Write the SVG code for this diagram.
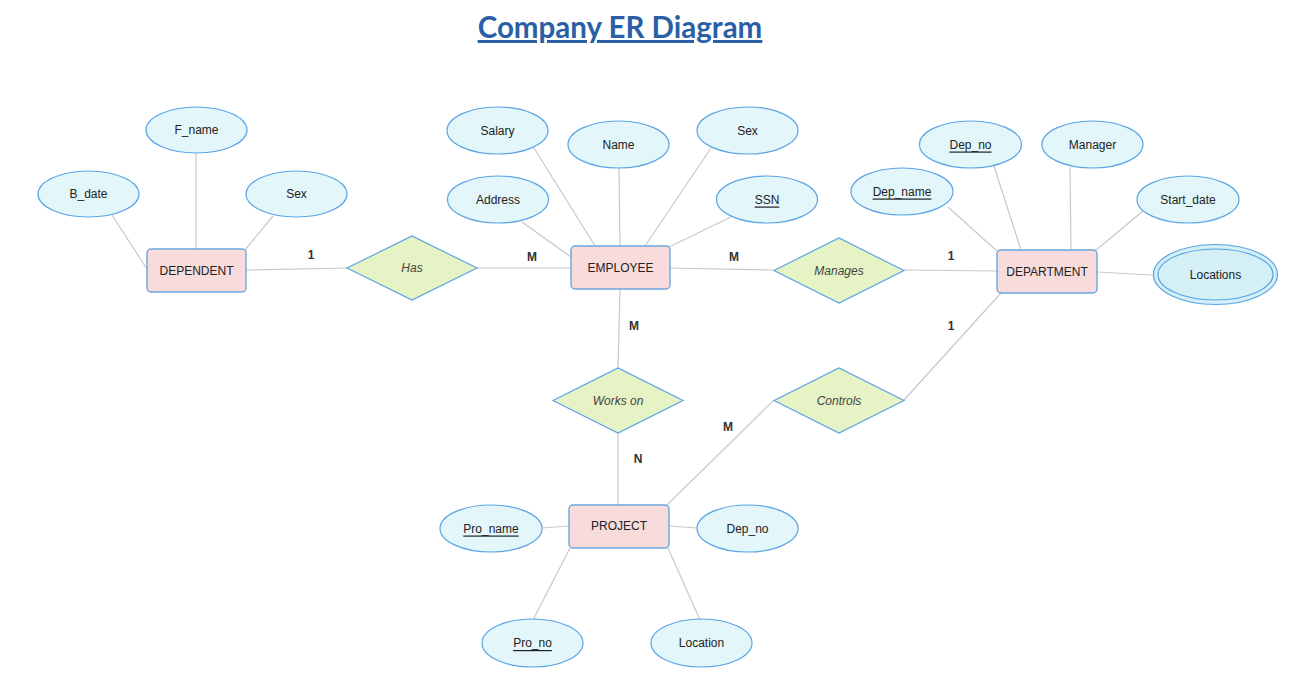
<svg xmlns="http://www.w3.org/2000/svg" width="1308" height="686" viewBox="0 0 1308 686">
<style>
.attr{fill:#e3f6fa;stroke:#5aa4e6;stroke-width:1.2}
.ent{fill:#f8dbdb;stroke:#6aa6e0;stroke-width:1.4}
.rel{fill:#e6f3c4;stroke:#5aa4e6;stroke-width:1.2}
.t{font-family:"Liberation Sans",Arial,sans-serif;font-size:12px;fill:#222;text-anchor:middle;dominant-baseline:central}
.it{font-style:italic;fill:#444}
.u{text-decoration:underline}
.card{font-family:"Liberation Sans",Arial,sans-serif;font-size:12px;font-weight:bold;fill:#333;text-anchor:middle;dominant-baseline:central}
#connectors line{stroke:#c8c8c8;stroke-width:1.2}
</style>
<rect width="1308" height="686" fill="#fff"/>
<text x="620" y="38" font-family="Lato,'Liberation Sans',sans-serif" font-size="29.5" font-weight="bold" fill="#2b5fa5" text-anchor="middle" text-decoration="underline">Company ER Diagram</text>
<g id="connectors">
<line x1="112" y1="215" x2="147" y2="269"/>
<line x1="196" y1="153" x2="196" y2="249"/>
<line x1="273" y1="216" x2="245" y2="250"/>
<line x1="246" y1="270" x2="347" y2="268"/>
<line x1="477" y1="268" x2="571" y2="268"/>
<line x1="534" y1="148" x2="595" y2="246"/>
<line x1="619" y1="168" x2="620" y2="246"/>
<line x1="711" y1="148" x2="645" y2="246"/>
<line x1="522" y1="222" x2="571" y2="257"/>
<line x1="731" y1="217" x2="669" y2="247"/>
<line x1="670" y1="268" x2="774" y2="270"/>
<line x1="904" y1="270" x2="997" y2="271"/>
<line x1="948" y1="207" x2="998" y2="252"/>
<line x1="994" y1="166" x2="1021" y2="250"/>
<line x1="1070" y1="167" x2="1071" y2="250"/>
<line x1="1143" y1="211" x2="1095" y2="251"/>
<line x1="1097" y1="272" x2="1153" y2="275"/>
<line x1="620" y1="289" x2="618" y2="368"/>
<line x1="618" y1="433" x2="618" y2="505"/>
<line x1="774" y1="400" x2="667" y2="505"/>
<line x1="904" y1="400" x2="1001" y2="293"/>
<line x1="542" y1="528" x2="569" y2="526"/>
<line x1="669" y1="526" x2="697" y2="528"/>
<line x1="533" y1="620" x2="570" y2="548"/>
<line x1="700" y1="620" x2="668" y2="548"/>
</g>
<g id="card-labels">
<text class="card" x="311" y="255">1</text>
<text class="card" x="532" y="257">M</text>
<text class="card" x="734" y="257">M</text>
<text class="card" x="951" y="256">1</text>
<text class="card" x="634" y="326">M</text>
<text class="card" x="951" y="326">1</text>
<text class="card" x="638" y="459">N</text>
<text class="card" x="728" y="427">M</text>
</g>
<g id="DEPENDENT"><rect class="ent" x="147" y="249" width="99" height="43" rx="4"/><text class="t" x="196.5" y="270.5">DEPENDENT</text></g>
<g id="F_name"><ellipse class="attr" cx="196.5" cy="130" rx="50.5" ry="23"/><text class="t" x="196.5" y="130">F_name</text></g>
<g id="B_date"><ellipse class="attr" cx="88.5" cy="194" rx="50.5" ry="23"/><text class="t" x="88.5" y="194">B_date</text></g>
<g id="Sex_dep"><ellipse class="attr" cx="296.5" cy="194" rx="50.5" ry="23"/><text class="t" x="296.5" y="194">Sex</text></g>
<g id="Has"><polygon class="rel" points="347,268 412,236 477,268 412,300"/><text class="t it" x="412" y="268">Has</text></g>
<g id="EMPLOYEE"><rect class="ent" x="571" y="246" width="99" height="43" rx="4"/><text class="t" x="620.5" y="267.5">EMPLOYEE</text></g>
<g id="Salary"><ellipse class="attr" cx="497.5" cy="130.5" rx="50.5" ry="23.5"/><text class="t" x="497.5" y="130.5">Salary</text></g>
<g id="Name"><ellipse class="attr" cx="618.5" cy="144.5" rx="50.5" ry="23.5"/><text class="t" x="618.5" y="144.5">Name</text></g>
<g id="Sex_emp"><ellipse class="attr" cx="747.5" cy="130.5" rx="50.5" ry="23.5"/><text class="t" x="747.5" y="130.5">Sex</text></g>
<g id="Address"><ellipse class="attr" cx="498" cy="199.5" rx="50.5" ry="23.5"/><text class="t" x="498" y="199.5">Address</text></g>
<g id="SSN"><ellipse class="attr" cx="767" cy="199.5" rx="50.5" ry="23.5"/><text class="t u" x="767" y="199.5">SSN</text></g>
<g id="Manages"><polygon class="rel" points="774,270.5 839,238 904,270.5 839,303"/><text class="t it" x="839" y="270.5">Manages</text></g>
<g id="DEPARTMENT"><rect class="ent" x="997" y="250" width="100" height="43" rx="4"/><text class="t" x="1047" y="271.5">DEPARTMENT</text></g>
<g id="Dep_no_dept"><ellipse class="attr" cx="970.5" cy="144.5" rx="51" ry="23.5"/><text class="t u" x="970.5" y="144.5">Dep_no</text></g>
<g id="Manager"><ellipse class="attr" cx="1092.5" cy="144.5" rx="50.5" ry="23.5"/><text class="t" x="1092.5" y="144.5">Manager</text></g>
<g id="Dep_name"><ellipse class="attr" cx="902" cy="191.5" rx="51" ry="23.5"/><text class="t u" x="902" y="191.5">Dep_name</text></g>
<g id="Start_date"><ellipse class="attr" cx="1188" cy="199.5" rx="51" ry="23.5"/><text class="t" x="1188" y="199.5">Start_date</text></g>
<g id="Locations"><ellipse cx="1215.5" cy="274.5" rx="62" ry="30" fill="#d4eff5" stroke="#5aa4e6" stroke-width="1.2"/><ellipse cx="1215.5" cy="274.5" rx="57.5" ry="25.5" fill="#d4eff5" stroke="#5aa4e6" stroke-width="1.2"/><text class="t" x="1215.5" y="274.5" font-size="13">Locations</text></g>
<g id="Works_on"><polygon class="rel" points="553,400.5 618,368 683,400.5 618,433"/><text class="t it" x="618" y="400.5">Works on</text></g>
<g id="Controls"><polygon class="rel" points="774,400.5 839,368 904,400.5 839,433"/><text class="t it" x="839" y="400.5">Controls</text></g>
<g id="PROJECT"><rect class="ent" x="569" y="505" width="100" height="43" rx="4"/><text class="t" x="619" y="526">PROJECT</text></g>
<g id="Pro_name"><ellipse class="attr" cx="491" cy="528.5" rx="51" ry="23.5"/><text class="t u" x="491" y="528.5">Pro_name</text></g>
<g id="Dep_no_proj"><ellipse class="attr" cx="747.5" cy="528.5" rx="50.5" ry="23.5"/><text class="t" x="747.5" y="528.5">Dep_no</text></g>
<g id="Pro_no"><ellipse class="attr" cx="532.5" cy="643" rx="50.5" ry="24"/><text class="t u" x="532.5" y="643">Pro_no</text></g>
<g id="Location"><ellipse class="attr" cx="701.5" cy="643" rx="50.5" ry="24"/><text class="t" x="701.5" y="643">Location</text></g>
</svg>
